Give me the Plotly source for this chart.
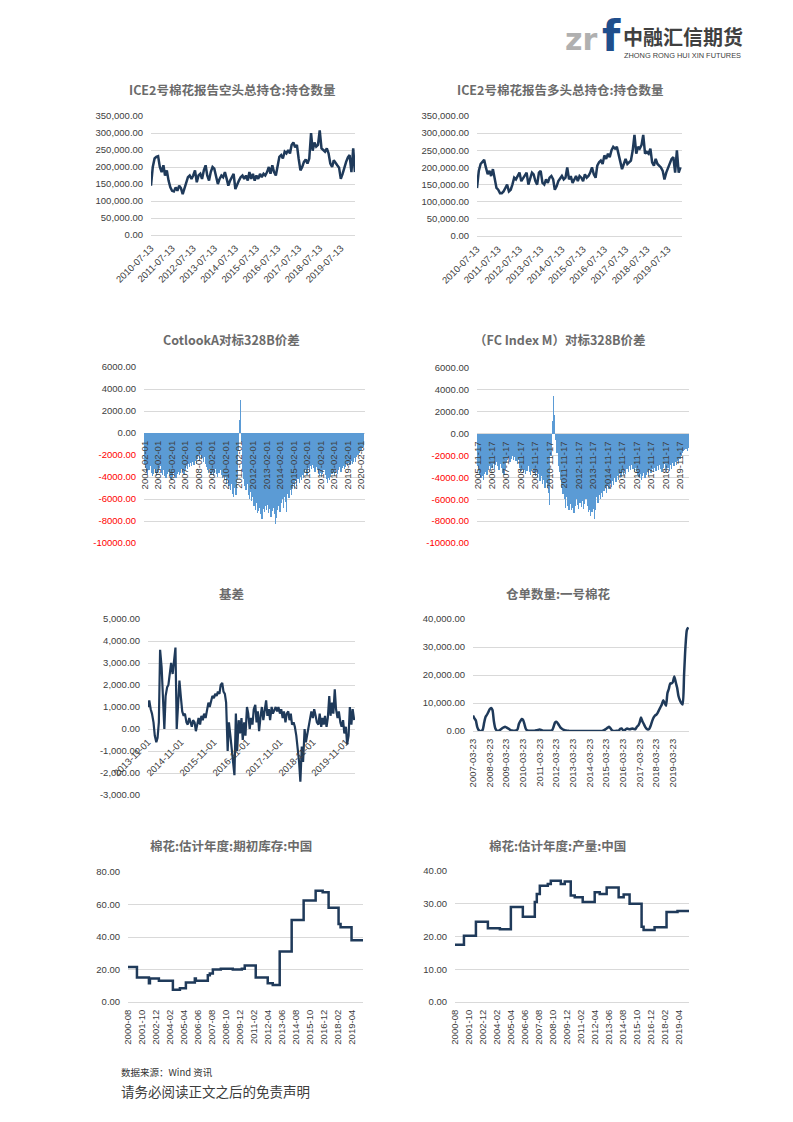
import pandas as pd
import plotly.graph_objects as go

W, H = 793, 1122

# ---------------- data ----------------
# ICE No.2 cotton, reported short open interest (thousand contracts, monthly reading from 2010-07-13)
short_oi_k = [145, 200, 225, 230, 232, 200,
              185, 205, 175, 190, 160, 140, 130, 128, 140, 130, 145, 138,
              120, 135, 150, 170, 175, 165, 175, 190, 155, 175, 180, 165,
              190, 205, 175, 160, 185, 200, 195, 170, 150, 165, 175, 170,
              185, 165, 145, 160, 170, 180, 135, 150, 160, 170, 175, 165,
              175, 160, 185, 165, 180, 160, 175, 165, 180, 170, 180, 175,
              185, 200, 180, 205, 185, 175, 200, 230, 235, 225, 245, 240,
              250, 240, 265, 272, 258, 265, 225, 190, 200, 215, 222, 210,
              225, 300, 248, 272, 260, 265, 308, 255, 250, 245, 255, 240,
              210, 200, 220, 210, 205, 198, 165, 180, 200, 215, 228, 235,
              185, 255, 185]
# ICE No.2 cotton, reported long open interest (thousand contracts)
long_oi_k = [140, 190, 210, 215, 222, 200,
             180, 190, 175, 195, 165, 140, 135, 125, 125, 130, 140, 150,
             130, 135, 150, 170, 165, 175, 185, 160, 170, 175, 185, 150,
             170, 185, 180, 160, 150, 185, 190, 155, 150, 165, 155, 170,
             175, 165, 135, 145, 160, 170, 175, 165, 170, 200, 165, 175,
             155, 165, 175, 160, 175, 170, 160, 180, 170, 175, 185, 200,
             180, 170, 205, 215, 220, 210, 235, 225, 240, 230, 250, 260,
             255, 260, 240, 215, 195, 210, 225, 210, 215, 220, 250, 295,
             240, 260, 255, 265, 295, 240, 245, 240, 255, 215, 205, 225,
             210, 205, 200, 190, 165, 185, 200, 210, 225, 230, 185, 250,
             185, 200]
oi_ticks = ["2010-07-13", "2011-07-13", "2012-07-13", "2013-07-13", "2014-07-13",
            "2015-07-13", "2016-07-13", "2017-07-13", "2018-07-13", "2019-07-13"]

# CotlookA vs 328B spread (monthly from 2004-02)
cotlook_spread = [-2800, -3200, -3500, -3800, -3400, -3000, -3600, -3900, -3700, -3300, -3600,
                  -3900, -3500, -3200, -3000, -3600, -3800, -3400, -3900, -4100, -3700, -3500, -3900,
                  -4200, -4300, -4000, -3600, -3900, -4100, -3700, -3500, -3800, -3600, -3300, -3500,
                  -3700, -3400, -3000, -3300, -2800, -3100, -2700, -3000, -2600, -2900, -2500, -2800,
                  -2400, -2100, -2500, -2000, -2300, -2600, -2200, -2800, -3100, -3400, -3600, -3300,
                  -3800, -3500, -3900, -3600, -3300, -3700, -4000, -3600, -3400, -3800, -4100, -3900,
                  -4300, -4000, -4600, -4200, -4800, -5200, -4600, -5500, -5800, -5000, -5600, -4200,
                  -1500, 1200, 3000, -800, -3500, -4200, -4800, -5200, -4600, -5600, -6000, -5400,
                  -6200, -5800, -6600, -7000, -6400, -7300, -7100, -6800, -7400, -7800, -6900, -7200,
                  -6600, -7000, -6500, -7300, -6900, -7600, -7100, -6800, -7400, -8300, -7700, -7000,
                  -6600, -7200, -6400, -6000, -6800, -5800, -6300, -7200, -5500, -5900, -5200, -5600,
                  -5000, -4600, -5100, -4400, -4800, -4200, -4500, -4000, -4300, -3800, -4100, -3600,
                  -3400, -3800, -3200, -3500, -3000, -3300, -2900, -3200, -3500, -3100, -3400, -3700,
                  -3900, -3600, -4000, -3700, -3400, -3800, -4200, -4500, -4100, -4300, -4000, -3700,
                  -3500, -3900, -3600, -3300, -3700, -3400, -3100, -3500, -3200, -3000, -3300, -3100,
                  -2800, -3000, -2700, -2900, -2500, -2800, -2600, -2300, -2600, -2200, -2000, -1800,
                  -1600, -1500, -1400, -1300]
cotlook_ticks = ["2004-02-01", "2005-02-01", "2006-02-01", "2007-02-01", "2008-02-01", "2009-02-01",
                 "2010-02-01", "2011-02-01", "2012-02-01", "2013-02-01", "2014-02-01", "2015-02-01",
                 "2016-02-01", "2017-02-01", "2018-02-01", "2019-02-01", "2020-02-01"]

# FC Index M vs 328B spread (monthly from 2005-11-17)
fc_spread = [-3000, -3400,
             -3800, -4100, -3900, -4200, -3700, -3500, -3800, -3300, -3000, -3400, -3100, -2800,
             -3200, -2900, -2600, -3000, -3300, -2800, -3100, -3600, -3800, -3300, -2700, -2400,
             -2200, -2600, -2300, -2000, -2400, -2100, -2500, -2800, -2400, -3100, -3400, -3200,
             -3600, -3300, -3700, -3400, -3000, -3500, -3800, -3400, -3200, -3600, -3900, -3500,
             -4000, -3700, -4300, -3900, -4600, -4200, -5000, -4500, -5000, -5400, -6500, -2000,
             1200, 3400, 1700, -600, -1800, -3000, -3500, -4200, -5000, -5500, -6000, -6800,
             -5800, -6600, -7000, -6400, -7000, -6800, -7300, -6600, -6000, -6500, -6900, -6300,
             -6700, -6200, -6900, -6400, -6000, -6600, -7200, -7000, -7500, -7200, -6900, -7800,
             -7000, -5800, -6300, -5600, -6000, -5400, -5800, -5200, -5000, -5400, -4800, -5100,
             -4600, -4900, -4300, -4700, -4100, -4400, -3900, -4200, -3700, -4000, -3500, -3800,
             -3400, -3700, -3200, -3500, -3000, -3300, -2900, -3200, -3500, -3100, -3400, -3800,
             -4000, -3700, -4200, -3900, -3600, -4100, -3800, -3500, -3900, -3300, -3600, -3200,
             -3500, -3100, -3400, -3000, -3300, -2900, -3200, -3500, -3100, -2800, -3200, -3500,
             -3100, -3400, -2900, -3200, -2700, -3000, -2600, -2900, -2500, -2700, -2300, -2000,
             -1800, -1600, -1500, -1400, -1600, -1300]
fc_ticks = ["2005-11-17", "2006-11-17", "2007-11-17", "2008-11-17", "2009-11-17", "2010-11-17",
            "2011-11-17", "2012-11-17", "2013-11-17", "2014-11-17", "2015-11-17", "2016-11-17",
            "2017-11-17", "2018-11-17", "2019-11-17"]

# Basis (semi-monthly from 2013-11-01)
basis = [1000, 1300, 900, 700, 300, -300, -600, -400, 300, 3600, 2800, 1600, 0, 1500, 1900, 2000,
         2600, 3000, 2500, 3100, 3700, 0, 1300, 2200, 1400, 800, 600, 700, 300, 200, 500, 300,
         100, 400, 300, -100, 300, 500, 200, 600, 400, 700, 500, 800, 1200, 1000, 1300, 1500,
         1400, 1600, 1500, 1700, 1600, 2000, 2100, 1700, 1600, 1200, -1000, 300, -300, -900,
         -1600, -2100, 700, -1000, 400, -200, 500, -500, 300, -300, 1000, 700, 0, 500,
         200, 900, 1100, 300, 800, -100, 600, 1000, 400, 800, 1300, 600, 900, 400, 1000, 700,
         900, 1000, 800, 1000, 700, 900, 500, 800, 300, 700, 800, 400, 700, 200, 300, 100,
         -300, -800, -1500, -2400, -800, -1500, 0, -600, -200, 200, 400, 800, 500, 900, 600, 300,
         200, 700, 100, 500, 200, 600, 100, 500, 1500, 600, 1200, 700, 1800, 900, 500, 800,
         300, 100, 400, -200, 100, -700, -300, 1000, 200, 900, 400]
basis_ticks = ["2013-11-01", "2014-11-01", "2015-11-01", "2016-11-01", "2017-11-01",
               "2018-11-01", "2019-11-01"]

# Warehouse receipts, CZCE No.1 cotton (monthly from 2007-03-23)
receipts = [5500, 4500, 3800, 1500, 400, 0, 0, 500, 3000, 5000,
            5800, 6800, 7800, 8200, 7500, 3500, 1000, 200, 0, 200, 600, 1000,
            1300, 1500, 1300, 1000, 700, 300, 150, 100, 100, 200, 600, 2500,
            3500, 4300, 4000, 2500, 800, 200, 100, 50, 50, 50, 100, 200,
            300, 400, 500, 400, 200, 100, 50, 50, 50, 50, 100, 300,
            1500, 3000, 3300, 2800, 2000, 1200, 800, 500, 300, 200, 100, 50,
            0, 0, 0, 0, 0, 0, 0, 0, 0, 0, 0, 0,
            0, 0, 0, 0, 0, 0, 0, 0, 0, 0, 0, 0,
            200, 500, 800, 1200, 1500, 1000, 300, 0, 0, 50, 50, 100,
            800, 900, 300, 200, 600, 900, 700, 600, 800, 900, 700, 700,
            1500, 2000, 3000, 4800, 3500, 2500, 1500, 800, 500, 800, 2000, 3500,
            4800, 5500, 5800, 6500, 7500, 8500, 9500, 11000, 10000, 9000, 13500, 15000,
            17000, 17000, 17500, 19500, 17500, 15500, 12500, 11000, 10000, 9500, 20000, 30000,
            36000, 37000]
receipt_ticks = ["2007-03-23", "2008-03-23", "2009-03-23", "2010-03-23", "2011-03-23",
                 "2012-03-23", "2013-03-23", "2014-03-23", "2015-03-23", "2016-03-23",
                 "2017-03-23", "2018-03-23", "2019-03-23"]

# China cotton beginning stocks (estimate, step changes)
stock_dates = ["2000-08-01", "2001-05-01", "2002-05-01", "2002-06-01", "2003-03-01", "2004-05-01",
               "2004-12-01", "2005-06-01", "2006-03-01", "2006-04-01", "2007-04-01", "2007-06-01",
               "2007-09-01", "2008-05-01", "2009-05-01", "2010-02-01", "2010-05-01", "2011-04-01",
               "2012-04-01", "2012-09-01", "2013-04-01", "2014-04-01", "2015-04-01", "2016-04-01",
               "2016-11-01", "2017-05-01", "2018-03-01", "2018-05-01", "2019-04-01", "2020-03-15"]
stock_values = [21.5, 15.0, 11.5, 14.5, 13.0, 7.5,
                8.5, 12.0, 14.5, 13.0, 16.5, 17.5,
                20.0, 20.5, 20.0, 20.5, 22.5, 15.0,
                11.5, 10.5, 31.0, 50.5, 62.5, 68.5,
                67.5, 58.0, 48.0, 46.0, 38.0, 38.0]

# China cotton production (estimate, step changes)
prod_dates = ["2000-08-01", "2001-05-01", "2002-05-01", "2003-05-01", "2004-05-01", "2005-04-01",
              "2006-04-01", "2007-04-01", "2007-06-01", "2007-09-01", "2008-05-01", "2008-08-01",
              "2009-06-01", "2009-10-01", "2010-04-01", "2010-08-01", "2011-04-01", "2012-04-01",
              "2012-09-01", "2013-04-01", "2014-04-01", "2014-09-01", "2015-03-01", "2016-03-01",
              "2016-05-01", "2017-04-01", "2018-04-01", "2019-03-01", "2020-02-15"]
prod_values = [17.5, 20.2, 24.5, 22.5, 22.2, 29.0,
               26.0, 30.5, 33.0, 35.5, 36.0, 37.0,
               36.0, 36.8, 32.5, 32.0, 30.5, 33.5,
               33.0, 35.0, 32.0, 32.8, 30.0, 23.0,
               22.0, 22.8, 27.5, 27.8, 27.8]
season_ticks = ["2000-08", "2001-10", "2002-12", "2004-02", "2005-04", "2006-06", "2007-08",
                "2008-10", "2009-12", "2011-02", "2012-04", "2013-06", "2014-08", "2015-10",
                "2016-12", "2018-02", "2019-04"]

titles = ["ICE2号棉花报告空头总持仓:持仓数量", "ICE2号棉花报告多头总持仓:持仓数量",
          "CotlookA对标328B价差", "（FC Index M）对标328B价差",
          "基差", "仓单数量:一号棉花",
          "棉花:估计年度:期初库存:中国", "棉花:估计年度:产量:中国"]

# ---------------- styling ----------------
LINE = "#1F3A5A"
BAR = "#5B9BD5"
GRID = "#D9D9D9"
TICK = "#404040"
FONT = "Liberation Sans, Arial, sans-serif"
CJK = "Noto Sans CJK SC"
TF = 9.5
MONTH_MS = 86400000 * 33

# plot boxes in pixels: x0, x1, y0(top), y1(bottom)
boxes = {
    1: (151, 355, 116, 235),
    2: (477, 682, 116, 236),
    3: (144, 365, 367, 543),
    4: (477, 689, 368, 543),
    5: (148, 355, 619, 795),
    6: (473, 689, 619, 731),
    7: (128, 363, 872, 1002),
    8: (455, 689, 871, 1002),
}
title_pos = {1: (232, 89), 2: (560, 89), 3: (231, 340), 4: (560, 340),
             5: (231, 593), 6: (558, 593), 7: (231, 845), 8: (557, 845)}

fig = go.Figure()


def sfx(i):
    return "" if i == 1 else str(i)


def monthly(start, n):
    return pd.date_range(start, periods=n, freq=pd.DateOffset(months=1))


# traces
fig.add_trace(go.Scatter(x=monthly("2010-07-13", len(short_oi_k)), y=[v * 1000 for v in short_oi_k],
                         mode="lines", line=dict(color=LINE, width=2.5), xaxis="x", yaxis="y"))
fig.add_trace(go.Scatter(x=monthly("2010-07-13", len(long_oi_k)), y=[v * 1000 for v in long_oi_k],
                         mode="lines", line=dict(color=LINE, width=2.5), xaxis="x2", yaxis="y2"))
fig.add_trace(go.Bar(x=monthly("2004-02-01", len(cotlook_spread)), y=cotlook_spread, width=MONTH_MS,
                     marker=dict(color=BAR, line=dict(width=0)), xaxis="x3", yaxis="y3"))
fig.add_trace(go.Bar(x=monthly("2005-11-17", len(fc_spread)), y=fc_spread, width=MONTH_MS,
                     marker=dict(color=BAR, line=dict(width=0)), xaxis="x4", yaxis="y4"))
fig.add_trace(go.Scatter(x=pd.date_range("2013-11-01", periods=len(basis), freq="SMS"), y=basis,
                         mode="lines", line=dict(color=LINE, width=2.2), xaxis="x5", yaxis="y5"))
fig.add_trace(go.Scatter(x=monthly("2007-03-23", len(receipts)), y=receipts,
                         mode="lines", line=dict(color=LINE, width=2.5, shape="spline", smoothing=0.6),
                         xaxis="x6", yaxis="y6"))
fig.add_trace(go.Scatter(x=stock_dates, y=stock_values, mode="lines",
                         line=dict(color=LINE, width=2.5, shape="hv"), xaxis="x7", yaxis="y7"))
fig.add_trace(go.Scatter(x=prod_dates, y=prod_values, mode="lines",
                         line=dict(color=LINE, width=2.5, shape="hv"), xaxis="x8", yaxis="y8"))


def red_neg(v):
    t = f"{v:.2f}"
    return f"<span style='color:#FF0000'>{t}</span>" if v < 0 else t


y_specs = {
    1: dict(range=[0, 350000], vals=list(range(0, 350001, 50000)), fmt=lambda v: f"{v:,.2f}"),
    2: dict(range=[0, 350000], vals=list(range(0, 350001, 50000)), fmt=lambda v: f"{v:,.2f}"),
    3: dict(range=[-10000, 6000], vals=list(range(-10000, 6001, 2000)), fmt=red_neg),
    4: dict(range=[-10000, 6000], vals=list(range(-10000, 6001, 2000)), fmt=red_neg),
    5: dict(range=[-3000, 5000], vals=list(range(-3000, 5001, 1000)), fmt=lambda v: f"{v:,.2f}"),
    6: dict(range=[0, 40000], vals=list(range(0, 40001, 10000)), fmt=lambda v: f"{v:,.2f}"),
    7: dict(range=[0, 80], vals=list(range(0, 81, 20)), fmt=lambda v: f"{v:.2f}"),
    8: dict(range=[0, 40], vals=list(range(0, 41, 10)), fmt=lambda v: f"{v:.2f}"),
}
x_specs = {
    1: dict(range=["2010-07-13", "2020-03-15"], vals=oi_ticks, text=oi_ticks, angle=-45, free=False),
    2: dict(range=["2010-07-13", "2020-03-10"], vals=oi_ticks, text=oi_ticks, angle=-45, free=False),
    3: dict(range=["2004-01-20", "2020-05-10"], vals=cotlook_ticks, text=cotlook_ticks, angle=-90, free=True),
    4: dict(range=["2005-11-05", "2020-07-01"], vals=fc_ticks, text=fc_ticks, angle=-90, free=True),
    5: dict(range=["2013-11-01", "2020-02-10"], vals=basis_ticks, text=basis_ticks, angle=-45, free=True),
    6: dict(range=["2007-03-23", "2020-03-10"], vals=receipt_ticks, text=receipt_ticks, angle=-90, free=False),
    7: dict(range=["2000-08-01", "2020-03-15"], vals=[t + "-01" for t in season_ticks], text=season_ticks,
            angle=-90, free=False),
    8: dict(range=["2000-08-01", "2020-02-15"], vals=[t + "-01" for t in season_ticks], text=season_ticks,
            angle=-90, free=False),
}

layout = dict(width=W, height=H, margin=dict(l=0, r=0, t=0, b=0, pad=0),
              paper_bgcolor="white", plot_bgcolor="white", showlegend=False,
              bargap=0, font=dict(family=FONT, color=TICK))

for i in range(1, 9):
    x0, x1, y0, y1 = boxes[i]
    s = sfx(i)
    ys = y_specs[i]
    xs = x_specs[i]
    ylo, yhi = ys["range"]
    xa = dict(domain=[x0 / W, x1 / W], type="date", range=xs["range"],
              tickvals=xs["vals"], ticktext=xs["text"], tickangle=xs["angle"],
              tickfont=dict(family=FONT, size=TF, color=TICK),
              showgrid=False, zeroline=False, showline=False,
              ticks="outside", ticklen=3, tickcolor="rgba(0,0,0,0)",
              automargin=False, fixedrange=True)
    if xs["free"]:
        zero_px = y0 + (yhi - 0) / (yhi - ylo) * (y1 - y0)
        xa.update(anchor="free", position=1 - zero_px / H)
    else:
        xa.update(anchor="y" + s)
    ya = dict(domain=[1 - y1 / H, 1 - y0 / H], anchor="x" + s, range=ys["range"],
              tickvals=ys["vals"], ticktext=[ys["fmt"](v) for v in ys["vals"]],
              tickfont=dict(family=FONT, size=TF, color=TICK),
              showgrid=True, gridcolor=GRID, gridwidth=1,
              zeroline=True, zerolinecolor=GRID, zerolinewidth=1, showline=False,
              ticks="outside", ticklen=5, tickcolor="rgba(0,0,0,0)",
              automargin=False, fixedrange=True)
    layout["xaxis" + s] = xa
    layout["yaxis" + s] = ya

annotations = []
for i in range(1, 9):
    cx, cy = title_pos[i]
    annotations.append(dict(text=f"<b>{titles[i - 1]}</b>", x=cx / W, y=1 - cy / H, xref="paper", yref="paper",
                            xanchor="center", yanchor="middle", showarrow=False,
                            font=dict(family=CJK, size=12.5, color="#6B6B6B")))

# header logo and footer
annotations += [
    dict(text="<b>zr</b>", x=563 / W, y=1 - 40 / H, xref="paper", yref="paper", xanchor="left",
         yanchor="middle", showarrow=False, font=dict(family="DejaVu Sans", size=30, color="#B0B0B0")),
    dict(text="<b>f</b>", x=600 / W, y=1 - 36 / H, xref="paper", yref="paper", xanchor="left",
         yanchor="middle", showarrow=False, font=dict(family="DejaVu Sans", size=42, color="#1F4E8C")),
    dict(text="<b>中融汇信期货</b>", x=621 / W, y=1 - 36 / H, xref="paper", yref="paper", xanchor="left",
         yanchor="middle", showarrow=False, font=dict(family=CJK, size=20, color="#404040")),
    dict(text="ZHONG RONG HUI XIN FUTURES", x=622 / W, y=1 - 55 / H, xref="paper", yref="paper",
         xanchor="left", yanchor="middle", showarrow=False,
         font=dict(family=FONT, size=7.4, color="#404040")),
    dict(text="数据来源：Wind 资讯", x=119 / W, y=1 - 1072 / H, xref="paper", yref="paper",
         xanchor="left", yanchor="middle", showarrow=False, font=dict(family=CJK, size=9.5, color="#333333")),
    dict(text="请务必阅读正文之后的免责声明", x=119 / W, y=1 - 1091 / H, xref="paper", yref="paper",
         xanchor="left", yanchor="middle", showarrow=False, font=dict(family=CJK, size=13.5, color="#3C3C3C")),
]
layout["annotations"] = annotations

fig.update_layout(**layout)
fig.write_html("out.html", config={"displayModeBar": False, "staticPlot": True},
               post_script="document.body.style.margin='0px';document.body.style.overflow='hidden';")
